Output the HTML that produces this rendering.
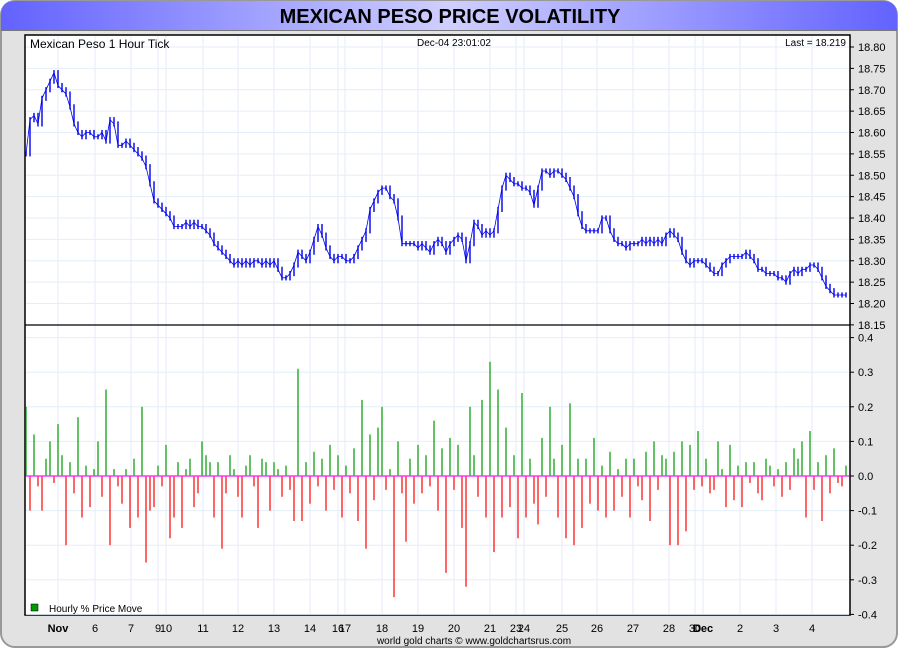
<!DOCTYPE html>
<html><head><meta charset="utf-8"><style>
body{margin:0;width:900px;height:650px;overflow:hidden;background:#fff;font-family:"Liberation Sans",sans-serif}
</style></head><body>
<svg id="c" width="900" height="650" xmlns="http://www.w3.org/2000/svg">
<defs><linearGradient id="tg" x1="0" x2="1" y1="0" y2="0">
<stop offset="0" stop-color="#6262ff"/><stop offset="0.5" stop-color="#cfcfff"/><stop offset="1" stop-color="#6262ff"/></linearGradient></defs>
<rect x="1" y="1" width="896" height="646" rx="14" fill="#e2e2e2" stroke="#999" stroke-width="2"/>
<path d="M1,30 L1,15 Q1,1 15,1 L883,1 Q897,1 897,15 L897,30 Z" fill="url(#tg)"/>
<line x1="1" y1="30.5" x2="897" y2="30.5" stroke="#777"/>
<text x="450" y="23" text-anchor="middle" font-size="20" font-weight="bold" fill="#000">MEXICAN PESO PRICE VOLATILITY</text>
<rect x="25" y="35" width="825" height="580" fill="#fff" stroke="#000" stroke-width="1.5"/>
<g id="grid"></g>
<line x1="25" y1="325" x2="850" y2="325" stroke="#000" stroke-width="1.2"/>
<g id="bars"></g>
<g id="price"></g>
<g id="axes"></g>
<text x="30" y="48" font-size="12">Mexican Peso 1 Hour Tick</text>
<text x="454" y="46" text-anchor="middle" font-size="10">Dec-04  23:01:02</text>
<text x="846" y="46" text-anchor="end" font-size="10">Last = 18.219</text>
<rect x="31" y="604" width="7" height="7" fill="#009900" stroke="#000" stroke-width="0.5"/>
<text x="49" y="612" font-size="10">Hourly % Price Move</text>
<text x="474" y="644" text-anchor="middle" font-size="10">world gold charts © www.goldchartsrus.com</text>
</svg>
<script>
const dayLabels=["Nov","6","7","9","10","11","12","13","14","16","17","18","19","20","21","23","24","25","26","27","28","30","Dec","2","3","4"];
const dayX=[58,95,131,158,166,203,238,274,310,338,345,382,418,454,490,516,524,562,597,633,669,695,703,740,776,812];
const priceTicks=[18.80,18.75,18.70,18.65,18.60,18.55,18.50,18.45,18.40,18.35,18.30,18.25,18.20,18.15];
const moveTicks=[0.4,0.3,0.2,0.1,0.0,-0.1,-0.2,-0.3,-0.4];
const prices=[18.55,18.63,18.64,18.62,18.68,18.70,18.72,18.74,18.71,18.70,18.69,18.66,18.62,18.60,18.59,18.60,18.60,18.59,18.59,18.60,18.58,18.63,18.62,18.57,18.57,18.58,18.57,18.56,18.55,18.54,18.52,18.48,18.44,18.43,18.42,18.41,18.40,18.38,18.38,18.38,18.39,18.38,18.39,18.38,18.38,18.37,18.36,18.34,18.33,18.32,18.31,18.30,18.29,18.30,18.29,18.30,18.29,18.30,18.30,18.29,18.30,18.29,18.30,18.28,18.26,18.26,18.27,18.29,18.32,18.31,18.30,18.32,18.35,18.38,18.36,18.33,18.31,18.30,18.31,18.31,18.30,18.30,18.31,18.33,18.35,18.37,18.42,18.44,18.46,18.47,18.47,18.45,18.44,18.40,18.34,18.34,18.34,18.34,18.33,18.34,18.33,18.32,18.34,18.35,18.34,18.32,18.34,18.35,18.36,18.35,18.30,18.34,18.39,18.38,18.36,18.37,18.36,18.37,18.42,18.47,18.50,18.49,18.48,18.48,18.47,18.47,18.46,18.43,18.47,18.51,18.51,18.50,18.51,18.51,18.50,18.49,18.47,18.45,18.41,18.38,18.37,18.37,18.37,18.37,18.40,18.40,18.37,18.35,18.34,18.34,18.33,18.34,18.34,18.34,18.35,18.34,18.35,18.34,18.35,18.34,18.36,18.37,18.36,18.35,18.32,18.30,18.29,18.30,18.30,18.30,18.29,18.28,18.27,18.27,18.29,18.30,18.31,18.31,18.31,18.31,18.32,18.31,18.30,18.28,18.28,18.27,18.27,18.27,18.26,18.26,18.25,18.27,18.28,18.27,18.28,18.28,18.29,18.29,18.28,18.26,18.24,18.23,18.22,18.22,18.22,18.22];
const moves=[0.20,-0.10,0.12,-0.03,-0.10,0.05,0.10,-0.02,0.15,0.06,
-0.20,0.04,-0.05,0.17,-0.12,0.03,-0.09,0.02,0.10,-0.06,
0.25,-0.20,0.02,-0.03,-0.08,0.02,-0.15,0.05,-0.12,0.20,
-0.25,-0.10,-0.09,0.03,-0.03,0.09,-0.18,-0.12,0.04,-0.15,
0.02,0.05,-0.09,-0.05,0.10,0.06,0.04,-0.12,0.04,-0.21,
-0.05,0.06,0.02,-0.06,-0.12,0.03,0.06,-0.03,-0.15,0.05,
0.04,-0.10,0.04,0.02,-0.06,0.03,-0.04,-0.13,0.31,-0.13,
0.04,-0.08,0.07,-0.03,0.05,-0.10,0.09,-0.04,0.06,-0.12,
0.03,-0.05,0.08,-0.13,0.22,-0.21,0.12,-0.07,0.14,0.20,
-0.04,0.02,-0.35,0.10,-0.05,-0.19,0.05,-0.08,0.09,-0.05,
0.06,-0.03,0.16,-0.10,0.08,-0.28,0.11,-0.04,0.09,-0.15,
-0.32,0.20,0.06,-0.06,0.22,-0.12,0.33,-0.22,0.25,-0.12,
0.14,-0.09,0.06,-0.18,0.24,-0.12,0.05,-0.08,-0.14,0.11,
-0.06,0.20,0.05,-0.12,0.09,-0.18,0.21,-0.20,0.05,-0.15,
0.05,-0.08,0.11,-0.10,0.03,-0.12,0.07,-0.10,0.02,-0.06,
0.05,-0.12,0.05,-0.03,-0.07,0.07,-0.13,0.10,-0.04,0.06,
0.05,-0.20,0.07,-0.20,0.10,-0.16,0.09,-0.04,0.13,-0.03,
0.05,-0.05,-0.04,0.10,0.02,-0.09,0.09,-0.07,0.03,-0.09,
0.04,-0.02,0.04,-0.05,-0.07,0.05,0.03,-0.03,0.02,-0.06,
0.04,-0.04,0.08,0.05,0.10,-0.12,0.13,-0.04,0.04,-0.13,
0.06,-0.05,0.08,-0.02,-0.03,0.03];
const NS="http://www.w3.org/2000/svg";
function mk(t,a,p){const e=document.createElementNS(NS,t);for(const k in a)e.setAttribute(k,a[k]);p.appendChild(e);return e;}
function xIdx(i,n){return 26+i*(820/(n-1));}
function yPrice(v){return 47+(18.80-v)*(256.5/0.60);}
function yMove(v){return 476-v*346;}
const grid=document.getElementById('grid'),axes=document.getElementById('axes');
dayX.forEach((x,i)=>{
 const l=mk('line',{x1:x,y1:36,x2:x,y2:614,stroke:'#e4eef8','stroke-width':1},grid);
 
 
 const t=mk('text',{x:x,y:632,'text-anchor':'middle','font-size':11,'font-weight':i==0||i==22?'bold':'normal',fill:'#000'},axes);
 t.textContent=dayLabels[i];
 
 
});
priceTicks.forEach(v=>{
 const y=yPrice(v);
 const g=mk('line',{x1:26,y1:y,x2:849,y2:y,stroke:'#e4eef8'},grid);
 
 
 mk('line',{x1:850,y1:y,x2:854,y2:y,stroke:'#000'},axes);
 const t=mk('text',{x:858,y:y+4,'font-size':11,fill:'#000'},axes);
 t.textContent=v.toFixed(2);
 
 
});
moveTicks.forEach(v=>{
 const y=yMove(v);
 const g=mk('line',{x1:26,y1:y,x2:849,y2:y,stroke:'#e4eef8'},grid);
 
 
 mk('line',{x1:850,y1:y,x2:854,y2:y,stroke:'#000'},axes);
 const t=mk('text',{x:858,y:y+4,'font-size':11,fill:'#000'},axes);
 t.textContent=v.toFixed(1);
 
 
});
const bars=document.getElementById('bars');
moves.forEach((v,i)=>{
 const x=xIdx(i,moves.length);
 const b=mk('line',{x1:x,y1:yMove(0),x2:x,y2:yMove(v),stroke:v>=0?'#009900':'#ff0000','stroke-width':1.2},bars);
 
 
});
const z=mk('line',{x1:26,y1:yMove(0),x2:849,y2:yMove(0),stroke:'#ff33ff','stroke-width':1.5},bars);


const pg=document.getElementById('price');
const pts=prices.map((v,i)=>xIdx(i,prices.length).toFixed(1)+','+yPrice(v).toFixed(1)).join(' ');
const pl=mk('polyline',{points:pts,fill:'none',stroke:'#0000ee','stroke-width':0.8},pg);


prices.forEach((v,i)=>{
 const p=i>0?prices[i-1]:v;
 const hi=Math.max(p,v)+0.006, lo=Math.min(p,v)-0.006;
 const x=xIdx(i,prices.length);
 const t=mk('line',{x1:x,y1:yPrice(hi),x2:x,y2:yPrice(lo),stroke:'#0000ee','stroke-width':1.4},pg);
 
 
});
</script>
</body></html>
